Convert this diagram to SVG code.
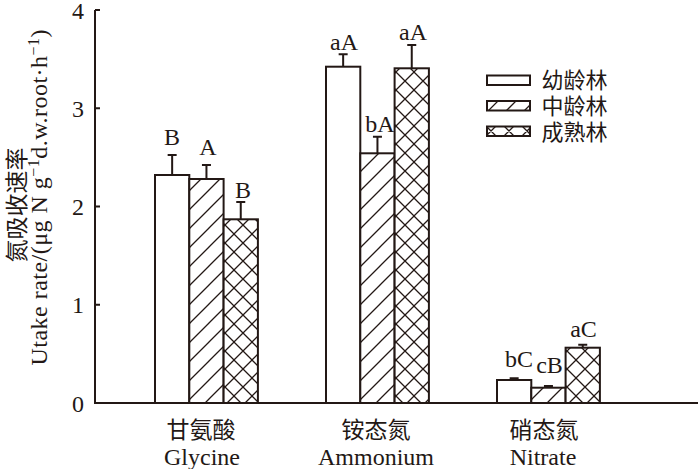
<svg xmlns="http://www.w3.org/2000/svg" width="700" height="469" viewBox="0 0 700 469">
<style>
.ax{stroke:#231815;stroke-width:2;fill:none}
.bar{stroke:#231815;stroke-width:2}
.err{stroke:#231815;stroke-width:2;fill:none}
.lat{font-family:'Liberation Serif','Times New Roman',serif;font-size:24px;fill:#231815}
.cjk{font-family:'Noto Sans CJK SC','Noto Sans CJK JP',sans-serif;font-size:23px;fill:#231815}
.leg{font-size:22px}
.h{stroke:#231815;stroke-width:1.3;fill:none}
</style>
<defs>
<pattern id="hatch" patternUnits="userSpaceOnUse" width="19" height="19">
<rect width="19" height="19" fill="#fff"/>
<path d="M-2,2 L2,-2 M0,19 L19,0 M17,21 L21,17" class="h"/>
</pattern>
<pattern id="cross" patternUnits="userSpaceOnUse" width="18" height="18">
<rect width="18" height="18" fill="#fff"/>
<path d="M-2,-2 L20,20 M-2,20 L20,-2" class="h"/>
</pattern>
<clipPath id="lb2"><rect x="487" y="101" width="43" height="9.5"/></clipPath>
<clipPath id="lb3"><rect x="487" y="126.5" width="43" height="9.5"/></clipPath>
</defs>
<rect width="700" height="469" fill="#fff"/>

<g id="axes">
<path class="ax" d="M95,10 V403 H698"/>
<path class="ax" d="M95,10 H100 M95,108.25 H100 M95,206.5 H100 M95,304.75 H100"/>
<g class="lat" text-anchor="end">
<text x="84" y="19">4</text>
<text x="84" y="116.5">3</text>
<text x="84" y="214.5">2</text>
<text x="84" y="313">1</text>
<text x="84" y="411.5">0</text>
</g>
<text class="cjk" transform="translate(24.5,205) rotate(-90)" text-anchor="middle">氮吸收速率</text>
<text class="lat" transform="translate(46.5,197.5) rotate(-90)" text-anchor="middle" textLength="336" lengthAdjust="spacing">Utake rate/(μg N g<tspan dy="-8" font-size="16">−1</tspan><tspan dy="8">d.w.root·h</tspan><tspan dy="-8" font-size="16">−1</tspan><tspan dy="8">)</tspan></text>
</g>

<g id="glycine">
<rect class="bar" x="155" y="175" width="34.3" height="228" fill="#fff"/>
<rect class="bar" x="189.3" y="179" width="34.3" height="224" fill="url(#hatch)"/>
<rect class="bar" x="223.6" y="219.3" width="34.3" height="183.7" fill="url(#cross)"/>
<path class="err" d="M172.15,175 V155 M167.65,155 H176.65 M206.45,179 V165 M201.95,165 H210.95 M240.75,219.3 V202 M236.25,202 H245.25"/>
<g class="lat" text-anchor="middle">
<text x="172" y="145">B</text>
<text x="208" y="155">A</text>
<text x="243" y="198">B</text>
</g>
<text class="cjk" x="201" y="437.5" text-anchor="middle">甘氨酸</text>
<text class="lat" x="202" y="465" text-anchor="middle">Glycine</text>
</g>

<g id="ammonium">
<rect class="bar" x="326" y="66.7" width="34.3" height="336.3" fill="#fff"/>
<rect class="bar" x="360.3" y="153.3" width="34.3" height="249.7" fill="url(#hatch)"/>
<rect class="bar" x="394.6" y="68.3" width="34.3" height="334.7" fill="url(#cross)"/>
<path class="err" d="M343.15,66.7 V54.3 M338.65,54.3 H347.65 M377.45,153.3 V136.7 M372.95,136.7 H381.95 M411.75,68.3 V45 M407.25,45 H416.25"/>
<g class="lat" text-anchor="middle">
<text x="344" y="50">aA</text>
<text x="380" y="132">bA</text>
<text x="413" y="40">aA</text>
</g>
<text class="cjk" x="376" y="437.5" text-anchor="middle">铵态氮</text>
<text class="lat" x="376" y="465" text-anchor="middle">Ammonium</text>
</g>

<g id="nitrate">
<rect class="bar" x="497" y="380" width="34.3" height="23" fill="#fff"/>
<rect class="bar" x="531.3" y="387.7" width="34.3" height="15.3" fill="url(#hatch)"/>
<rect class="bar" x="565.6" y="347.7" width="34.3" height="55.3" fill="url(#cross)"/>
<path class="err" d="M514.15,380 V378.3 M509.65,378.3 H518.65 M548.45,387.7 V386 M543.95,386 H552.95 M582.75,347.7 V344.7 M578.25,344.7 H587.25"/>
<g class="lat" text-anchor="middle">
<text x="519" y="367">bC</text>
<text x="549.5" y="373">cB</text>
<text x="583.5" y="337">aC</text>
</g>
<text class="cjk" x="544" y="437.5" text-anchor="middle">硝态氮</text>
<text class="lat" x="543" y="465" text-anchor="middle">Nitrate</text>
</g>

<g id="legend">
<rect class="bar" x="487" y="75.5" width="43" height="9.5" fill="#fff"/>
<g clip-path="url(#lb2)"><path class="h" d="M487,112 L499,100 M505,112 L517,100 M523,112 L535,100"/></g>
<rect class="bar" x="487" y="101" width="43" height="9.5" fill="none"/>
<g clip-path="url(#lb3)"><path class="h" d="M485,125 L497,137 M485,137 L497,125 M503,125 L515,137 M503,137 L515,125 M521,125 L533,137 M521,137 L533,125"/></g>
<rect class="bar" x="487" y="126.5" width="43" height="9.5" fill="none"/>
<text class="cjk leg" x="541.5" y="87.5">幼龄林</text>
<text class="cjk leg" x="541.5" y="113.5">中龄林</text>
<text class="cjk leg" x="541.5" y="139.5">成熟林</text>
</g>
</svg>
